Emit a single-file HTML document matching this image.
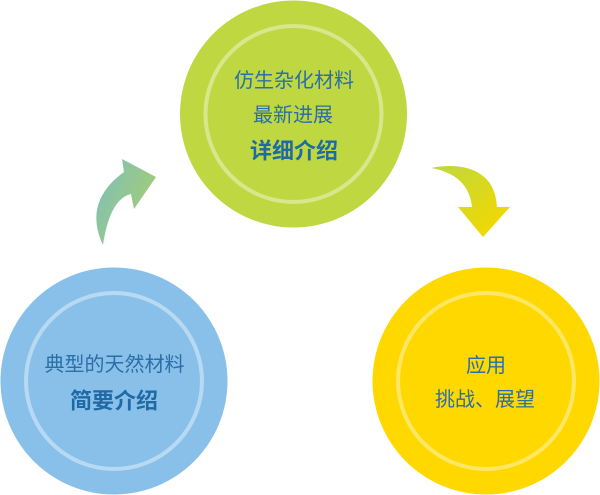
<!DOCTYPE html>
<html>
<head>
<meta charset="utf-8">
<style>
html,body{margin:0;padding:0;background:#fff;width:600px;height:495px;overflow:hidden}
svg{display:block}
text{font-family:"Liberation Sans","Noto Sans CJK SC",sans-serif;font-size:20px;text-anchor:middle;dominant-baseline:central}
.b{font-size:22px;font-weight:700}
</style>
</head>
<body>
<svg width="600" height="495" viewBox="0 0 600 495" xmlns="http://www.w3.org/2000/svg">
<defs>
<linearGradient id="a1" gradientUnits="userSpaceOnUse" x1="95" y1="180" x2="150" y2="205">
<stop offset="0" stop-color="#80c0b8"/><stop offset="1" stop-color="#a0cc78"/>
</linearGradient>
<linearGradient id="a2" gradientUnits="userSpaceOnUse" x1="440" y1="165" x2="495" y2="235">
<stop offset="0" stop-color="#c0d83c"/><stop offset="1" stop-color="#f4d800"/>
</linearGradient>
</defs>
<circle cx="293.500" cy="114" r="113.500" fill="#bfd841"/>
<circle cx="293.500" cy="114" r="88" fill="none" stroke="#d8e68c" stroke-width="4"/>
<circle cx="114" cy="381" r="113.500" fill="#89c0ea"/>
<circle cx="114" cy="381" r="88" fill="none" stroke="#b8d9f2" stroke-width="4"/>
<circle cx="486" cy="381" r="113.500" fill="#ffd800"/>
<circle cx="486" cy="381" r="88" fill="none" stroke="#ffe766" stroke-width="4"/>
<path d="M103 245C92 222 92 195 124 172L122 159L156 177L134 209L131 194C118 197 108 212 103 245Z" fill="url(#a1)"/>
<path d="M431 168C455 163 495 165 497 207L510 207L483 237L458 207L472 207C470 185 455 172 431 168Z" fill="url(#a2)"/>
<g fill="#2b6ea8">
<text x="294" y="81">仿生杂化材料</text>
<text x="293" y="115.500">最新进展</text>
<text x="294" y="151" class="b" fill="#1f6aa5">详细介绍</text>
<text x="114.500" y="365">典型的天然材料</text>
<text x="114" y="401" class="b" fill="#1f6aa5">简要介绍</text>
<text x="486" y="366">应用</text>
<text x="485" y="400">挑战、展望</text>
</g>
</svg>
</body>
</html>
